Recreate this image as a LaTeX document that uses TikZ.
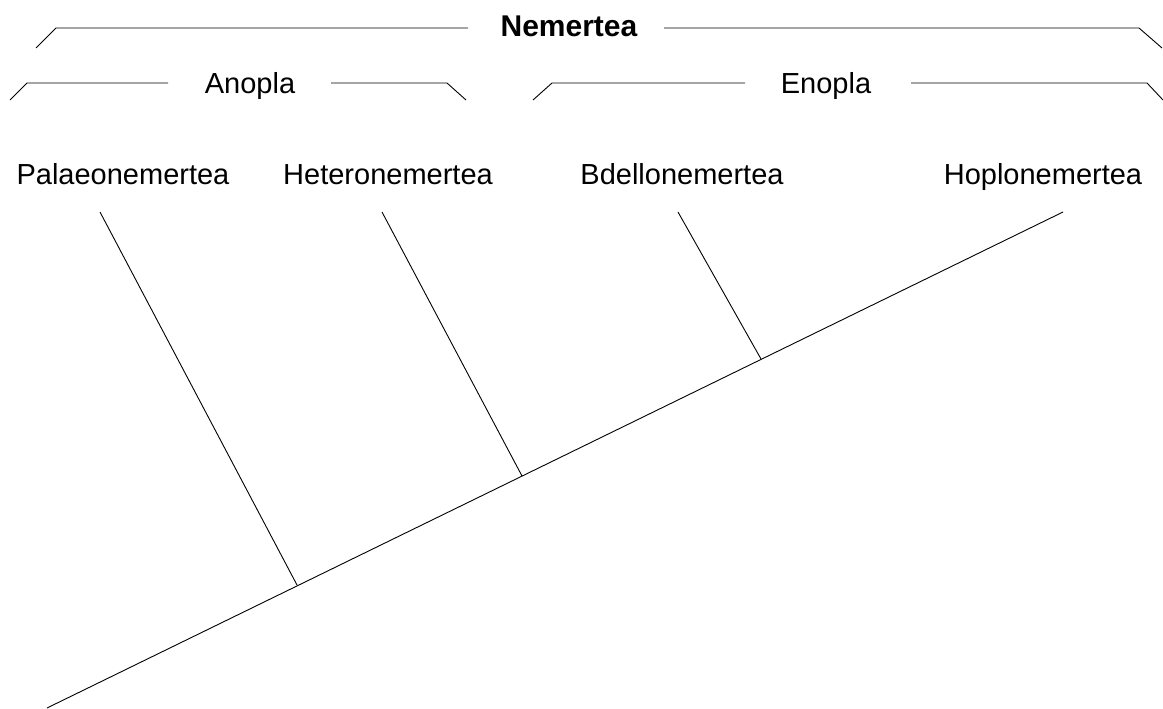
\documentclass[tikz,border=0pt]{standalone}
\usepackage{fontspec}
\setmainfont{Liberation Sans}
\begin{document}
\begin{tikzpicture}[x=1pt,y=-1pt,line width=0.9pt,
    taxon/.style={anchor=base,inner sep=0pt,font=\fontsize{29}{34}\selectfont},
    clade/.style={taxon},
    phylum/.style={taxon,font=\fontsize{30}{36}\selectfont\bfseries}]
            \useasboundingbox (0,0) rectangle (1163,709);

            % group labels
            \node[phylum] (Nem) at (569, 37) {Nemertea};
            \node[clade] (Ano) at (250, 93) {Anopla};
            \node[clade] (Eno) at (826, 93) {Enopla};

            % brackets
            \draw (36, 48) -- (56, 28) -- (468, 28);
            \draw (664, 28) -- (1139, 28) -- (1162, 48);
            \draw (10, 100) -- (27, 83) -- (168, 83);
            \draw (331, 83) -- (447, 83) -- (466, 100);
            \draw (533, 100) -- (552, 83) -- (745, 83);
            \draw (911, 83) -- (1147, 83) -- (1163, 100);

            % taxa
            \node[taxon] (Pal) at (123, 184) {Palaeonemertea};
            \node[taxon] (Het) at (388, 184) {Heteronemertea};
            \node[taxon] (Bde) at (682, 184) {Bdellonemertea};
            \node[taxon] (Hop) at (1043, 184) {Hoplonemertea};

            % tree
            \coordinate (root) at (47, 708);
            \coordinate (tHop) at (1063, 212);
            \coordinate (jPal) at (297, 585);
            \coordinate (jHet) at (522, 476);
            \coordinate (jBde) at (761, 359);
            \coordinate (tPal) at (100, 212);
            \coordinate (tHet) at (382, 212);
            \coordinate (tBde) at (678, 212);

            \draw (root) -- (tHop);
            \draw (tPal) -- (jPal);
            \draw (tHet) -- (jHet);
            \draw (tBde) -- (jBde);

        \end{tikzpicture}
\end{document}
